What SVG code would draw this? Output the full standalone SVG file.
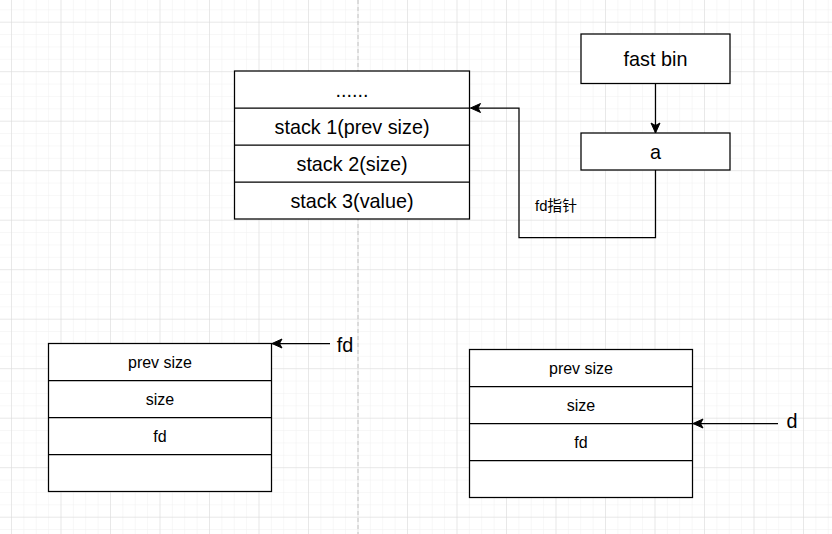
<svg xmlns="http://www.w3.org/2000/svg" width="832" height="534" viewBox="0 0 832 534">
<style>
.box{fill:#fff;stroke:#000;stroke-width:1.25}
.div{stroke:#000;stroke-width:1.25;fill:none}
.t{font-family:"Liberation Sans",Arial,Helvetica,sans-serif;fill:#000;text-anchor:middle;dominant-baseline:central}
.big{font-size:19.8px}
.small{font-size:16px}
.edge{fill:none;stroke:#000;stroke-width:1.25}
</style>
<defs>
<pattern id="minor" patternUnits="userSpaceOnUse" x="11" y="21.7" width="12.375" height="12.375">
<path d="M0,0 H12.375 M0,0 V12.375" stroke="#efefef" stroke-width="1" fill="none"/>
</pattern>
<pattern id="major" patternUnits="userSpaceOnUse" x="11" y="21.7" width="49.5" height="49.5">
<path d="M0,0 H49.5 M0,0 V49.5" stroke="#dadada" stroke-width="1" fill="none"/>
</pattern>
<marker id="arr" markerUnits="userSpaceOnUse" markerWidth="12" markerHeight="12" refX="10" refY="5" orient="auto" overflow="visible">
<path d="M10,5 L0,0.5 L2.5,5 L0,9.5 Z" fill="#000" stroke="#000" stroke-width="1"/>
</marker>
</defs>
<rect width="832" height="534" fill="#fff"/>
<rect width="832" height="534" fill="url(#minor)"/>
<rect width="832" height="534" fill="url(#major)"/>
<line x1="358" y1="0" x2="358" y2="534" stroke="#c4c4c4" stroke-width="1" stroke-dasharray="4 3"/>

<g id="stack-table">
<rect class="box" x="234.5" y="71" width="235" height="148"/>
<path class="div" d="M234.5,108 H469.5 M234.5,145 H469.5 M234.5,182 H469.5"/>
<text class="t big" x="352" y="89.5">......</text>
<text class="t big" x="352" y="126.5">stack 1(prev size)</text>
<text class="t big" x="352" y="163.5">stack 2(size)</text>
<text class="t big" x="352" y="200.5">stack 3(value)</text>
</g>

<g id="fast-bin">
<rect class="box" x="581" y="34" width="149" height="49.5"/>
<text class="t big" x="655.5" y="58.5">fast bin</text>
</g>

<g id="a">
<rect class="box" x="581" y="133" width="149" height="37"/>
<text class="t big" x="655.5" y="151.5">a</text>
</g>

<g id="chunk-left">
<rect class="box" x="48.5" y="343.5" width="223" height="148"/>
<path class="div" d="M48.5,380.5 H271.5 M48.5,417.5 H271.5 M48.5,454.5 H271.5"/>
<text class="t small" x="160" y="362">prev size</text>
<text class="t small" x="160" y="399">size</text>
<text class="t small" x="160" y="436">fd</text>
</g>

<g id="chunk-right">
<rect class="box" x="469.5" y="349.5" width="223" height="148"/>
<path class="div" d="M469.5,386.5 H692.5 M469.5,423.5 H692.5 M469.5,460.5 H692.5"/>
<text class="t small" x="581" y="368">prev size</text>
<text class="t small" x="581" y="405">size</text>
<text class="t small" x="581" y="442">fd</text>
</g>

<g id="label-fd">
<text class="t big" x="345" y="345">fd</text>
</g>
<g id="label-d">
<text class="t big" x="792" y="421">d</text>
</g>

<g id="connectors">
<path class="edge" d="M655.5,83.5 V133" marker-end="url(#arr)"/>
<path class="edge" d="M655.5,170 V237.5 H519 V108 H470.5" marker-end="url(#arr)"/>
<text class="t" x="556" y="206" style="font-family:'Liberation Sans','Noto Sans CJK SC',sans-serif;font-size:14.8px">fd指针</text>
<path class="edge" d="M330,343.5 H272" marker-end="url(#arr)"/>
<path class="edge" d="M778,423.5 H693" marker-end="url(#arr)"/>
</g>
</svg>
